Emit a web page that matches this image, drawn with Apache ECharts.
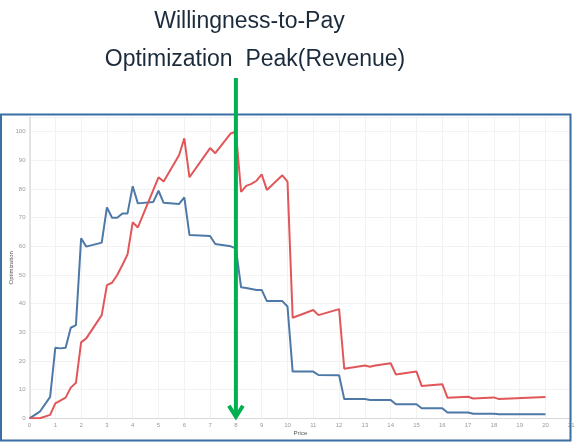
<!DOCTYPE html>
<html>
<head>
<meta charset="utf-8">
<script src="https://cdn.jsdelivr.net/npm/echarts@6/dist/echarts.min.js"></script>
<style>
  html, body { margin: 0; padding: 0; background: #fff; }
  #chart { width: 575px; height: 442px; }
</style>
</head>
<body>
<div id="chart"></div>
<script>
// blue line (lower curve)
var bluePrice = [0, 0.4, 0.8, 1.0, 1.2, 1.4, 1.6, 1.8, 2.0, 2.2, 2.8, 3.0, 3.2, 3.4, 3.6, 3.8, 4.0, 4.2, 4.8, 5.0,
  5.2, 5.8, 6.0, 6.2, 7.0, 7.2, 7.8, 8.0, 8.2, 8.4, 8.8, 9.0, 9.2, 9.8, 10.0, 10.2, 11.0, 11.2, 12.0, 12.2,
  13.0, 13.2, 14.0, 14.2, 15.0, 15.2, 16.0, 16.2, 17.0, 17.2, 18.0, 18.2, 20.0];
var blueOpt = [0, 2.3, 7.5, 24.6, 24.4, 24.6, 31.6, 32.5, 62.8, 59.9, 61.3, 73.6, 70.0, 70.0, 71.5, 71.5, 81.0, 75.0, 75.5, 79.4,
  75.2, 74.8, 77.1, 64.0, 63.6, 60.8, 60.0, 59.3, 45.7, 45.5, 44.8, 44.8, 40.9, 40.9, 39.0, 16.3, 16.3, 15.1, 15.0, 6.7,
  6.7, 6.4, 6.4, 4.9, 4.9, 3.5, 3.5, 2.0, 2.0, 1.6, 1.6, 1.4, 1.4];

// red line (revenue)
var redPrice = [0, 0.4, 0.8, 1.0, 1.4, 1.6, 1.8, 2.0, 2.2, 2.8, 3.0, 3.2, 3.4, 3.6, 3.8, 4.0, 4.2, 5.0, 5.2, 5.8,
  6.0, 6.2, 7.0, 7.2, 7.8, 8.0, 8.2, 8.4, 8.6, 8.8, 9.0, 9.2, 9.8, 10.0, 10.2, 11.0, 11.2, 12.0, 12.2, 13.0,
  13.2, 13.4, 14.0, 14.2, 15.0, 15.2, 16.0, 16.2, 17.0, 17.2, 18.0, 18.2, 20.0];
var redOpt = [0, 0, 1.2, 5.2, 7.2, 10.7, 12.4, 26.5, 27.9, 36.0, 46.5, 47.3, 50.0, 53.5, 57.2, 68.4, 66.6, 84.1, 82.6, 91.9,
  97.7, 84.1, 94.3, 92.5, 99.4, 100, 79.0, 81.1, 81.8, 82.9, 85.1, 79.7, 84.8, 82.6, 35.1, 37.8, 36.0, 38.1, 17.3, 18.4,
  18.0, 18.4, 19.2, 15.3, 16.3, 11.3, 11.9, 7.2, 7.5, 6.9, 7.3, 6.7, 7.4];

var titleLines = ['Willingness-to-Pay', 'Optimization  Peak(Revenue)'];
var peakPrice = 8;

function pairs(xs, ys) {
  return xs.map(function(x, i) { return [x, ys[i]]; });
}

var chart = echarts.init(document.getElementById('chart'));

var option = {
  animation: false,
  grid: { left: 29.5, right: 3.7, top: 117.4, bottom: 23.7, outerBoundsMode: 'none', containLabel: false },
  xAxis: {
    type: 'value',
    min: 0,
    max: 21,
    interval: 1,
    name: 'Price',
    nameLocation: 'middle',
    nameGap: 12,
    nameMoveOverlap: false,
    nameTextStyle: { fontSize: 6, color: '#555', fontFamily: 'Liberation Sans' },
    axisLine: { lineStyle: { color: '#d9d9d9', width: 1 } },
    axisTick: { show: false },
    axisLabel: { fontSize: 6, color: '#999', margin: 4, fontFamily: 'Liberation Sans' },
    splitLine: { lineStyle: { color: '#f2f2f2' } }
  },
  yAxis: {
    type: 'value',
    min: 0,
    max: 105,
    interval: 10,
    name: 'Optimization',
    nameLocation: 'middle',
    nameGap: 15,
    nameMoveOverlap: false,
    nameTextStyle: { fontSize: 6, color: '#555', fontFamily: 'Liberation Sans' },
    axisLine: { show: true, lineStyle: { color: '#e3e3e3', width: 2 } },
    axisTick: { show: false },
    axisLabel: { fontSize: 6, color: '#999', margin: 4, showMaxLabel: false, fontFamily: 'Liberation Sans' },
    splitLine: { lineStyle: { color: '#f2f2f2' } }
  },
  series: [{
    type: 'line',
    data: pairs(bluePrice, blueOpt),
    symbol: 'none',
    lineStyle: { color: '#4e79a7', width: 2 },
    itemStyle: { color: '#4e79a7' }
  }, {
    type: 'line',
    data: pairs(redPrice, redOpt),
    symbol: 'none',
    lineStyle: { color: '#e15759', width: 2 },
    itemStyle: { color: '#e15759' }
  }]
};
chart.setOption(option);

// green arrow at the revenue peak, plus titles and outer frame
var ax = chart.convertToPixel({ xAxisIndex: 0 }, peakPrice);
var tipY = chart.convertToPixel({ yAxisIndex: 0 }, 0) + 0.5;
var green = '#00b050';

chart.setOption({
  graphic: [{
    type: 'text', x: 249.5, y: 22,
    style: { text: titleLines[0], font: '23px "Liberation Sans"', fill: '#1b2b3c', align: 'center', verticalAlign: 'middle' }
  }, {
    type: 'text', x: 255, y: 60,
    style: { text: titleLines[1], font: '23px "Liberation Sans"', fill: '#1b2b3c', align: 'center', verticalAlign: 'middle' }
  }, {
    type: 'rect', z: 50,
    shape: { x: 1, y: 114.5, width: 569.5, height: 326 },
    style: { fill: 'none', stroke: '#3b6fa3', lineWidth: 2 }
  }, {
    type: 'line', z: 60,
    shape: { x1: ax, y1: 78, x2: ax, y2: tipY - 2 },
    style: { stroke: green, lineWidth: 4 }
  }, {
    type: 'polyline', z: 60,
    shape: { points: [[ax - 7, tipY - 13], [ax, tipY - 2], [ax + 7, tipY - 13]] },
    style: { stroke: green, lineWidth: 4, fill: 'none', lineJoin: 'miter' }
  }]
});
</script>
</body>
</html>
